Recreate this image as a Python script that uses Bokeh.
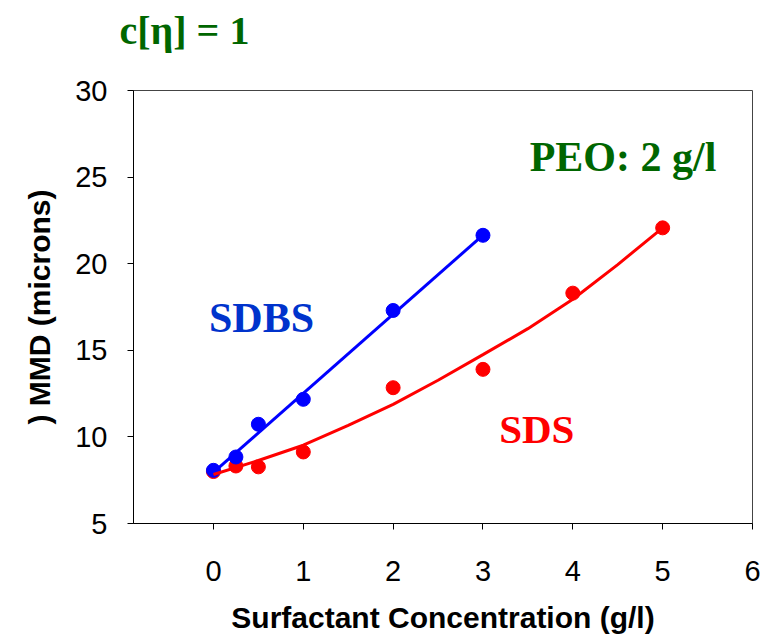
from bokeh.plotting import figure
from bokeh.models import Range1d, FixedTicker, Label
from bokeh.embed import file_html
from bokeh.resources import INLINE

# ---- data ----
sdbs_x = [0, 0.25, 0.5, 1, 2, 3]
sdbs_y = [8.07, 8.84, 10.73, 12.17, 17.30, 21.64]

sds_x = [0, 0.25, 0.5, 1, 2, 3, 4, 5]
sds_y = [8.0, 8.32, 8.27, 9.13, 12.84, 13.9, 18.3, 22.07]

# trend lines as drawn in the reference
sdbs_fit_x = [0, 3]
sdbs_fit_y = [7.95, 21.65]
sds_fit_x = [0, 0.5, 1, 1.5, 2, 2.5, 3, 3.5, 4, 4.5, 5]
sds_fit_y = [7.83, 8.64, 9.52, 10.66, 11.88, 13.27, 14.75, 16.25, 17.95, 19.95, 22.07]

x_ticks = [0, 1, 2, 3, 4, 5, 6]
y_ticks = [5, 10, 15, 20, 25, 30]

title_text = "c[η] = 1"
x_title = "Surfactant Concentration (g/l)"
y_title = ") MMD (microns)"

BLUE = "#0000FF"
RED = "#FF0000"
GREEN = "#006600"

W, H = 775, 638
FL, FR, FT, FB = 133, 752, 90, 523
p = figure(width=W, height=H, output_backend="svg", toolbar_location=None,
           x_range=Range1d(-0.89, 6), y_range=Range1d(5, 30),
           min_border_left=FL, min_border_right=W - FR,
           min_border_top=FT, min_border_bottom=H - FB)

p.background_fill_color = "white"
p.border_fill_color = "white"
p.outline_line_color = "#444444"
p.outline_line_width = 1
p.grid.visible = False

for ax in (p.xaxis[0], p.yaxis[0]):
    ax.axis_line_color = "black"
    ax.major_tick_line_color = "black"
    ax.major_tick_in = 0
    ax.major_tick_out = 6
    ax.minor_tick_line_color = None
    ax.major_label_text_font = "Liberation Sans"
    ax.major_label_text_font_size = "29px"
    ax.major_label_text_color = "black"
    ax.axis_label_text_font = "Liberation Sans"
    ax.axis_label_text_font_style = "bold"
    ax.axis_label_text_font_size = "30px"
    ax.axis_label_text_color = "black"

p.xaxis[0].ticker = FixedTicker(ticks=x_ticks)
p.yaxis[0].ticker = FixedTicker(ticks=y_ticks)
p.xaxis[0].axis_label = x_title
p.yaxis[0].axis_label = y_title
p.xaxis[0].major_label_standoff = 31
p.yaxis[0].major_label_standoff = 20
p.xaxis[0].axis_label_standoff = 17
p.yaxis[0].axis_label_standoff = 16

# marks
p.scatter(sds_x, sds_y, size=14, color=RED)
p.line(sdbs_fit_x, sdbs_fit_y, line_color=BLUE, line_width=3)
p.scatter(sdbs_x, sdbs_y, size=14, color=BLUE)
p.line(sds_fit_x, sds_fit_y, line_color=RED, line_width=3)

# annotations
p.add_layout(Label(x=-0.05, y=16.86, text="SDBS", text_font="Liberation Serif",
                   text_font_style="bold", text_font_size="42px", text_color="#0033CC",
                   text_baseline="alphabetic"))
p.add_layout(Label(x=3.18, y=10.44, text="SDS", text_font="Liberation Serif",
                   text_font_style="bold", text_font_size="41px", text_color=RED,
                   text_baseline="alphabetic"))
p.add_layout(Label(x=3.52, y=26.14, text="PEO: 2 g/l", text_font="Liberation Serif",
                   text_font_style="bold", text_font_size="42px", text_color=GREEN,
                   text_baseline="alphabetic"))
# chart title, in the panel above the frame
p.add_layout(Label(x=-14, y=60, x_units="screen", y_units="screen", text=title_text,
                   text_font="Liberation Serif", text_font_style="bold",
                   text_font_size="40px", text_color=GREEN,
                   text_baseline="alphabetic"), "above")

open("out.html", "w").write(file_html(p, INLINE))
